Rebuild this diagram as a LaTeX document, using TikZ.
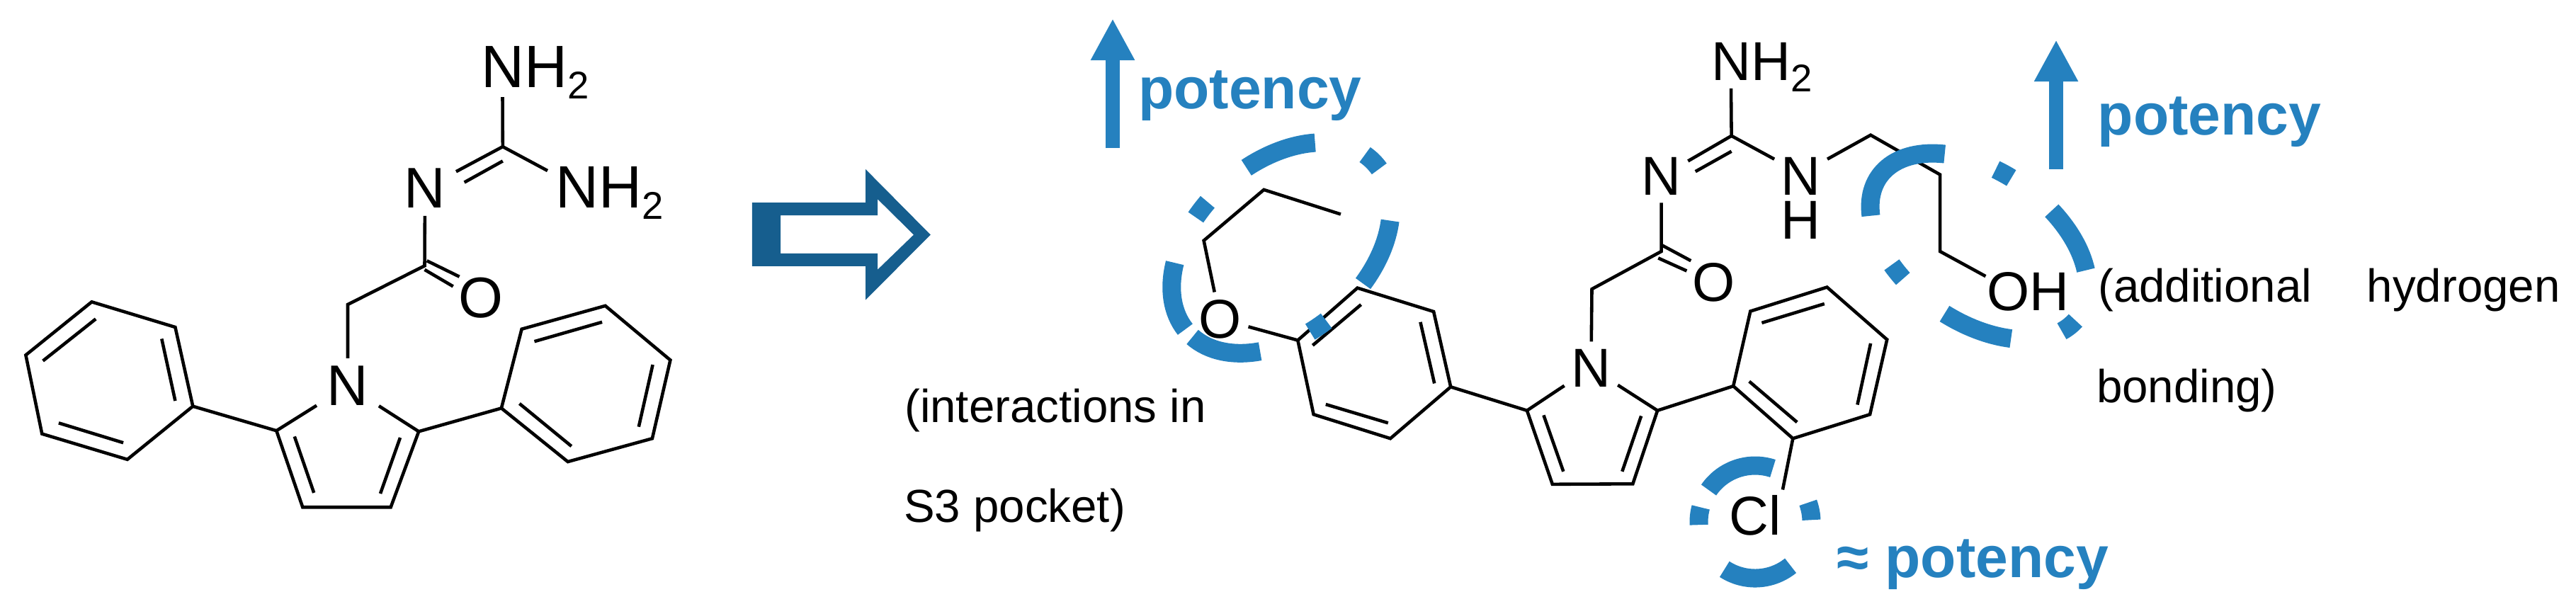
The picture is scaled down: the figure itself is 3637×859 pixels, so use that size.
\documentclass[tikz,border=0pt]{standalone}
\usepackage{fontspec}
\setmainfont{Liberation Sans}
\usetikzlibrary{arrows.meta}
\definecolor{markblue}{HTML}{2581BF}
\definecolor{arrowblue}{HTML}{165E8E}
\newcommand{\subtwo}{\raisebox{-4.6pt}{\fontsize{15.5}{15.5}\selectfont 2}}
\tikzset{
  bond/.style={line width=1.3pt,black},
  atom/.style={inner xsep=2.6pt,inner ysep=2.8pt,font=\fontsize{22}{22}\selectfont},
  atomleft/.style={inner xsep=4pt,inner ysep=3pt,font=\fontsize{23}{23}\selectfont},
  basetext/.style={inner sep=0pt,anchor=base west},
  note/.style={basetext,font=\fontsize{18.6}{18.6}\selectfont},
  potency/.style={basetext,text=markblue,font=\fontsize{23.4}{23.4}\selectfont\bfseries},
  upmark/.style={draw=markblue,line width=5.7pt,-{Triangle[length=16.7pt,width=16.5pt,fill=markblue]}},
  ring/.style={draw=markblue,line width=7.4pt},
}
\begin{document}
\begin{tikzpicture}[x=0.01cm,y=0.01cm,yscale=-1]
  \useasboundingbox (0,0) rectangle (3637,859);

  % left compound
  \coordinate (la1) at (129.5,426.3);
  \coordinate (la2) at (247.4,462);
  \coordinate (la3) at (272.3,573.7);
  \coordinate (la4) at (179.8,648.8);
  \coordinate (la5) at (59.3,612.6);
  \coordinate (la6) at (36.4,501.4);
  \coordinate (lb1) at (707.9,576.4);
  \coordinate (lb2) at (736.6,464.7);
  \coordinate (lb3) at (854.6,431.8);
  \coordinate (lb4) at (946.4,508.5);
  \coordinate (lb5) at (920.9,619.2);
  \coordinate (lb6) at (801.7,652);
  \coordinate (lp2) at (390.3,608.2);
  \coordinate (lp3) at (427.3,716.2);
  \coordinate (lp4) at (551.7,716.2);
  \coordinate (lp5) at (591.2,609.3);
  \coordinate (lch) at (491,430);
  \coordinate (lco) at (599.5,375.3);
  \coordinate (lgu) at (709.8,207.1);
  \coordinate (lend1) at (709.5,137);
  \coordinate (lend2) at (773,241);
  \node[atomleft] (ln1) at (491,545) {N};
  \node[atomleft] (ln2) at (600,265.8) {N};
  \node[atomleft] (lox) at (679.2,420.3) {O};
  \node[basetext,font=\fontsize{24}{24}\selectfont] (lnh1) at (679,123.3) {NH\subtwo};
  \node[basetext,font=\fontsize{24}{24}\selectfont] (lnh2) at (784,293.2) {NH\subtwo};

  \draw[bond] (la1) -- (la2) -- (la3) -- (la4) -- (la5) -- (la6) -- cycle;
  \draw[bond] (135.2,450.4) -- (60.6,509.6);
  \draw[bond] (228.3,478.4) -- (247.4,566);
  \draw[bond] (82.9,597.3) -- (174.1,625.2);
  \draw[bond] (la3) -- (lp2);
  \draw[bond] (ln1) -- (lp2) -- (lp3) -- (lp4) -- (lp5) -- (ln1);
  \draw[bond] (415.8,616.4) -- (443.2,695.9);
  \draw[bond] (565,618) -- (537,697);
  \draw[bond] (lp5) -- (lb1);
  \draw[bond] (lb1) -- (lb2) -- (lb3) -- (lb4) -- (lb5) -- (lb6) -- cycle;
  \draw[bond] (754.5,482.2) -- (850.1,454.8);
  \draw[bond] (921.6,515) -- (901.8,602.7);
  \draw[bond] (733.4,569.9) -- (806.8,630.1);
  \draw[bond] (ln1) -- (lch) -- (lco) -- (ln2) -- (lgu) -- (lend1);
  \draw[bond] (lgu) -- (lend2);
  \draw[bond] (709.8,227.4) -- (655.6,257.5);
  \draw[bond] (602.7,368.2) -- (648.6,390.7);
  \draw[bond] (599.5,380.8) -- (639.7,404.4);

  % block arrow
  \fill[arrowblue,even odd rule]
    (1061.9,286) -- (1222,286) -- (1222,238.9) -- (1313.8,331.5) -- (1222,423.6) -- (1222,375.9) -- (1061.9,375.9) -- cycle
    (1102,304.1) -- (1239,304.1) -- (1239,281.1) -- (1290,331.5) -- (1239,380.8) -- (1239,357.8) -- (1102,357.8) -- cycle;

  % right compound
  \coordinate (ce3) at (1892.9,302.5);
  \coordinate (ce2) at (1784.4,267.9);
  \coordinate (ce1) at (1699.6,339.7);
  \coordinate (ca1) at (1832.3,480.5);
  \coordinate (ca2) at (1916.5,406.6);
  \coordinate (ca3) at (2024.1,440);
  \coordinate (ca4) at (2048.2,546.3);
  \coordinate (ca5) at (1963,619.2);
  \coordinate (ca6) at (1854.6,585.2);
  \coordinate (cp2) at (2155.9,579.7);
  \coordinate (cp3) at (2191.8,683.8);
  \coordinate (cp4) at (2305.3,683.3);
  \coordinate (cp5) at (2340.1,579.7);
  \coordinate (cb1) at (2447.2,545.2);
  \coordinate (cb2) at (2471.3,439.5);
  \coordinate (cb3) at (2579.5,405.5);
  \coordinate (cb4) at (2664.2,479.5);
  \coordinate (cb5) at (2640.1,585.2);
  \coordinate (cb6) at (2531.3,619.2);
  \coordinate (cch) at (2247.5,408.2);
  \coordinate (cco) at (2345.5,355);
  \coordinate (cgu) at (2444.6,191.8);
  \coordinate (cs1) at (2641.1,190.7);
  \coordinate (cs2) at (2739.1,246.6);
  \coordinate (cs3) at (2739.1,355);
  \coordinate (cendn) at (2444,124.9);
  \coordinate (cendo) at (2803.4,390.1);
  \coordinate (cendc) at (2516.9,691.5);
  \coordinate (cendl) at (2505.1,224.7);
  \coordinate (cendr) at (2580,224.7);
  \node[atom] (cox1) at (1722.6,450.4) {O};
  \node[atom] (cn1) at (2246.4,519.5) {N};
  \node[atom] (cn2) at (2345.5,249.3) {N};
  \node[inner sep=0pt,align=center,font=\fontsize{22}{17.6}\selectfont] (cn3) at (2542,280.3) {N\\H};
  \node[atom] (cox2) at (2419.4,398.4) {O};
  \node[basetext,font=\fontsize{22}{22}\selectfont] (cnh) at (2416,113.4) {NH\subtwo};
  \node[basetext,font=\fontsize{22}{22}\selectfont] (ccl) at (2441,755) {Cl};
  \node[basetext,font=\fontsize{22}{22}\selectfont] (coh) at (2805,438.4) {OH};

  \draw[bond] (ce3) -- (ce2) -- (ce1) -- (cox1) -- (ca1);
  \draw[bond] (ca1) -- (ca2) -- (ca3) -- (ca4) -- (ca5) -- (ca6) -- cycle;
  \draw[bond] (1921.6,430.1) -- (1853.3,487.7);
  \draw[bond] (1871.8,571) -- (1959.8,597.3);
  \draw[bond] (2005.4,454.8) -- (2025.2,541.4);
  \draw[bond] (ca4) -- (cp2);
  \draw[bond] (cn1) -- (cp2) -- (cp3) -- (cp4) -- (cp5) -- (cn1);
  \draw[bond] (2179.4,586.3) -- (2207.3,665.8);
  \draw[bond] (2317.1,587.4) -- (2290.3,665.8);
  \draw[bond] (cp5) -- (cb1);
  \draw[bond] (cb1) -- (cb2) -- (cb3) -- (cb4) -- (cb5) -- (cb6) -- cycle;
  \draw[bond] (2487.4,455.9) -- (2575.8,429);
  \draw[bond] (2641.1,484.9) -- (2622.4,571.5);
  \draw[bond] (2469.7,538.6) -- (2537.2,596.2);
  \draw[bond] (cb6) -- (cendc);
  \draw[bond] (cn1) -- (cch) -- (cco) -- (cn2) -- (cgu) -- (cendn);
  \draw[bond] (cgu) -- (cendl);
  \draw[bond] (cendr) -- (cs1) -- (cs2) -- (cs3) -- (cendo);
  \draw[bond] (2444.6,213.7) -- (2393.7,242.2);
  \draw[bond] (2346.5,346.3) -- (2387.3,368.2);
  \draw[bond] (2341.2,364.4) -- (2381.4,382.5);

  % dashed marks around the changed groups
  \coordinate (mo) at (1809,350);
  \coordinate (moh) at (2794,348);
  \coordinate (mcl) at (2478,737);
  \foreach \s/\e in {282.7/319.2,-9/4.6,38.2/73,97/106,132.4/175.4,182.5/225,250/259}
    \draw[ring,shift={(mo)},rotate=-42] (\s:178 and 120) arc (\s:\e:178 and 120);
  \foreach \s/\e in {150.6/228.3,255.5/264,288.7/326.2,4/17,49.5/85.1,111/120}
    \draw[ring,shift={(moh)},rotate=35] (\s:172 and 106) arc (\s:\e:172 and 106);
  \foreach \s/\e in {214.5/288.3,340/358,177/195,51/122.9}
    \draw[ring,shift={(mcl)}] (\s:79.5) arc (\s:\e:79.5);

  % potency labels
  \coordinate (up1a) at (1571,209.3);
  \coordinate (up1b) at (1571,26.3);
  \coordinate (up2a) at (2903,238.9);
  \coordinate (up2b) at (2903,56.4);
  \draw[upmark] (up1a) -- (up1b);
  \draw[upmark] (up2a) -- (up2b);
  \node[potency] (pot1) at (1606.5,153.4) {potency};
  \node[potency] (pot2) at (2961,190) {potency};
  \node[potency] (pot3) at (2593,815.3) {≈ potency};

  % notes
  \node[note] (note1a) at (1276.6,596.2) {(interactions in};
  \node[note] (note1b) at (1275.6,737) {S3 pocket)};
  \node[note] (note2a) at (2961.5,426.3) {(additional\hspace{17pt} hydrogen};
  \node[note] (note2b) at (2959.4,568.2) {bonding)};
\end{tikzpicture}
\end{document}
